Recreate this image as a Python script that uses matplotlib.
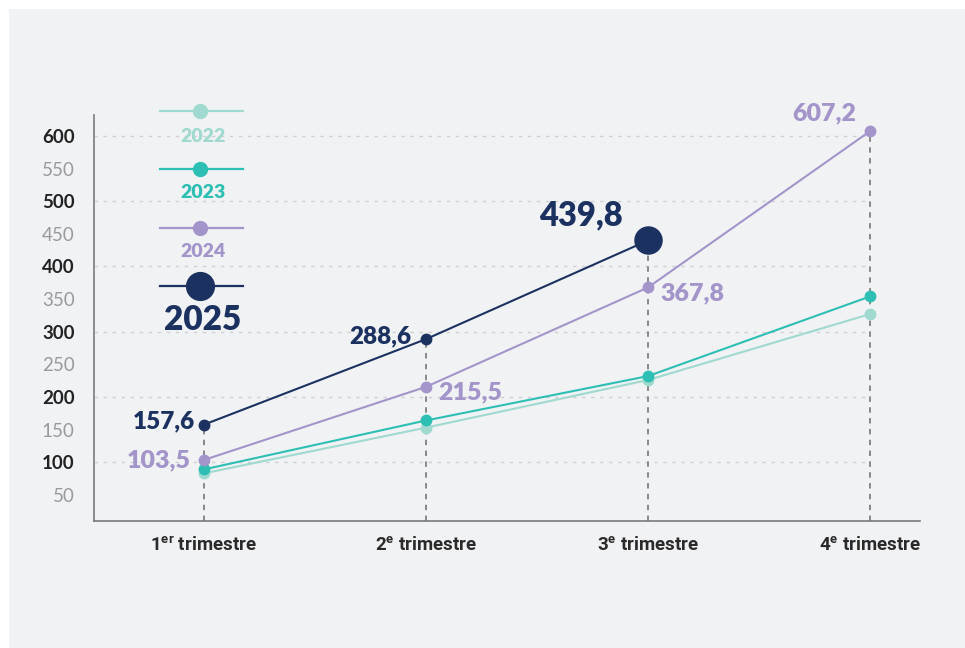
import matplotlib
matplotlib.use("Agg")
import matplotlib.pyplot as plt
from matplotlib.patches import Rectangle
from matplotlib.lines import Line2D

# ---------------- data ----------------
quarters = ["1$^{\\mathregular{er}}$ trimestre", "2$^{\\mathregular{e}}$ trimestre",
            "3$^{\\mathregular{e}}$ trimestre", "4$^{\\mathregular{e}}$ trimestre"]
v2022 = [83, 153, 226, 327]
v2023 = [89, 164, 232, 354]
v2024 = [103.5, 215.5, 367.8, 607.2]
v2025 = [157.6, 288.6, 439.8]
years = ["2022", "2023", "2024", "2025"]
yticks = [50, 100, 150, 200, 250, 300, 350, 400, 450, 500, 550, 600]

# ---------------- style ----------------
FONT = ["Lato", "DejaVu Sans"]
plt.rcParams["font.family"] = FONT
plt.rcParams["mathtext.default"] = "regular"

C22 = "#9fd9cf"
C23 = "#2ebfb4"
C24 = "#a395ca"
C25 = "#1b3260"
BG = "#f1f2f4"
HEAVY = "heavy"

W, H = 965, 648
fig = plt.figure(figsize=(W / 100, H / 100), dpi=100)
fig.patch.set_facecolor("white")
fig.add_artist(Rectangle((9 / W, 0), 1 - 9 / W, 1 - 9 / H, transform=fig.transFigure,
                         facecolor=BG, edgecolor="none", zorder=-10))

def fx(x):
    return x / W

def fy(y):
    return 1 - y / H

ax = fig.add_axes([fx(94), fy(521), fx(920) - fx(94), fy(115) - fy(521)])
ax.set_facecolor("none")
ax.set_xlim(-0.495, 3.225)
ax.set_ylim(10, 632)

for s in ["top", "right"]:
    ax.spines[s].set_visible(False)
for s in ["left", "bottom"]:
    ax.spines[s].set_color("#7a7a7a")
    ax.spines[s].set_linewidth(1.2)

x = list(range(len(quarters)))

# gridlines (hundreds), stop at last category
for yv in yticks:
    if yv % 100 == 0:
        ax.plot([ax.get_xlim()[0], x[-1]], [yv, yv], color="#cfd0d3", lw=1.0,
                linestyle=(0, (2.5, 4)), zorder=1)

# vertical dashed drop lines from top point of each quarter
tops = [max(v2022[i], v2023[i], v2024[i], v2025[i] if i < len(v2025) else 0) for i in x]
for xi, t in zip(x, tops):
    ax.plot([xi, xi], [ax.get_ylim()[0], t], color="#808080", lw=1.3,
            linestyle=(0, (3, 3)), zorder=2)

ms = 7.5
ax.plot(x, v2022, color=C22, lw=1.5, marker="o", ms=ms, zorder=3)
ax.plot(x, v2023, color=C23, lw=1.5, marker="o", ms=ms, zorder=4)
ax.plot(x, v2024, color=C24, lw=1.5, marker="o", ms=ms, zorder=5)
x25 = x[:len(v2025)]
ax.plot(x25, v2025, color=C25, lw=1.5, marker="o", ms=ms, zorder=6)
ax.plot([x25[-1]], [v2025[-1]], color=C25, marker="o", ms=19.5, zorder=7, lw=0)

# ticks
ax.set_xticks(x)
ax.set_xticklabels(quarters)
ax.tick_params(axis="x", length=0, pad=11)
for lab in ax.get_xticklabels():
    lab.set_fontfamily(["Roboto", "DejaVu Sans"])
    lab.set_fontweight("bold")
    lab.set_fontsize(13.5)
    lab.set_color("#2a2a2a")

ax.set_yticks(yticks)
ax.set_yticklabels([str(v) for v in yticks])
ax.tick_params(axis="y", length=0, pad=14)
for lab, v in zip(ax.get_yticklabels(), yticks):
    lab.set_fontsize(13.5)
    if v % 100 == 0:
        lab.set_fontweight("bold")
        lab.set_color("#222222")
    else:
        lab.set_color("#9a9a9a")

def fmt(v):
    return f"{v:.1f}".replace(".", ",")

def lab(xi, yi, color, size, dx, dy, ha):
    ax.annotate(fmt(yi), (xi, yi), xytext=(dx * 0.72, dy * 0.72), textcoords="offset points",
                ha=ha, va="center", color=color, fontsize=size, fontweight=HEAVY, zorder=10)

lab(0, v2025[0], C25, 17.5, -9, 3, "right")
lab(0, v2024[0], C24, 18, -13, 0, "right")
lab(1, v2025[1], C25, 17.5, -15, 3, "right")
lab(1, v2024[1], C24, 18, 12, -5, "left")
lab(2, v2025[2], C25, 23.5, -25, 25, "right")
lab(2, v2024[2], C24, 18, 12, -6, "left")
lab(3, v2024[3], C24, 18, -14, 18, "right")

# custom legend (pixel layout)
leg = [
    (years[0], C22, 111, 137, 10, 14),
    (years[1], C23, 169, 192, 10, 14),
    (years[2], C24, 228, 252, 10, 14),
    (years[3], C25, 286, 320, 20, 24),
]
for name, col, ly, ty, msz, fs in leg:
    fig.add_artist(Line2D([fx(160), fx(243)], [fy(ly), fy(ly)], transform=fig.transFigure,
                          color=col, lw=1.6))
    fig.add_artist(Line2D([fx(200)], [fy(ly)], transform=fig.transFigure, color=col,
                          marker="o", ms=msz, lw=0))
    fig.text(fx(203), fy(ty), name, color=col, fontsize=fs, fontweight=HEAVY,
             ha="center", va="center")

fig.savefig("out.png", dpi=100, facecolor=fig.get_facecolor())
